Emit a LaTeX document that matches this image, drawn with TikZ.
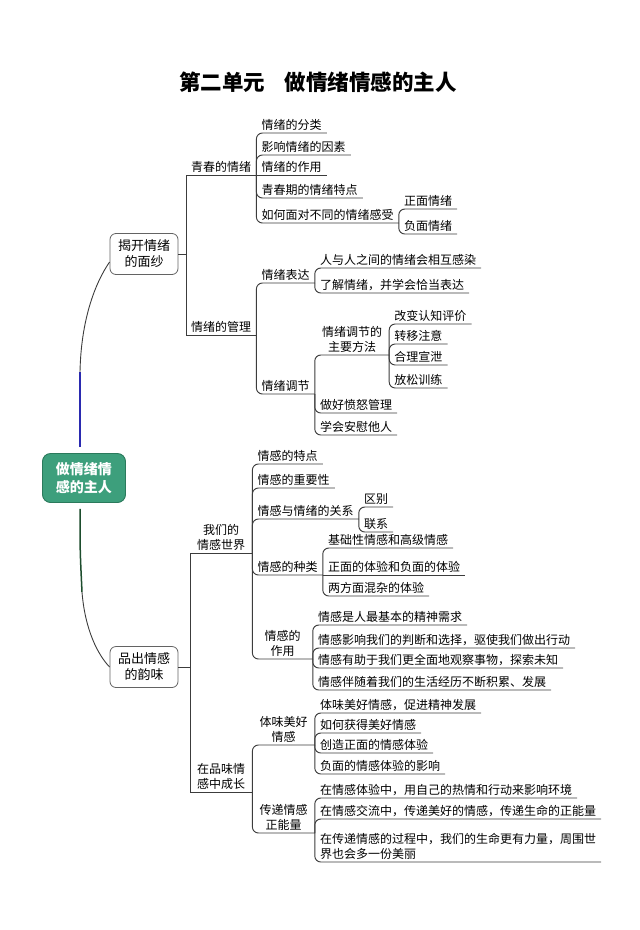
\documentclass[tikz,border=0pt]{standalone}
\usepackage{fontspec}
\setmainfont{Noto Sans CJK SC}
\usepackage{xcolor}
\usepackage{tikz}
\definecolor{linegray}{HTML}{3C3C3C}
\definecolor{rootgreen}{HTML}{3D9F7C}
\definecolor{rootedge}{HTML}{2B7A5C}
\definecolor{upblue}{HTML}{2A2AB0}
\definecolor{downgreen}{HTML}{1D4D2D}

\begin{document}
\begin{tikzpicture}[
    x=1pt, y=-1pt,
    topic/.style={anchor=south west, inner xsep=5pt, inner ysep=2.5pt, font=\fontsize{12}{15}\selectfont},
    twoline/.style={topic, align=center, inner xsep=7pt, minimum width=60pt},
    rootbox/.style={rectangle, draw=rootedge, fill=rootgreen, text=white, rounded corners=8pt, line width=0.9pt, minimum width=83pt, minimum height=49pt, align=center, font=\fontsize{14}{18}\selectfont\bfseries},
    mainbox/.style={rectangle, draw=linegray!80, rounded corners=6pt, line width=0.8pt, minimum width=68pt, minimum height=41pt, align=center, font=\fontsize{13}{16}\selectfont},
    branch/.style={draw=linegray, line width=0.95pt, rounded corners=6pt},
    trunk/.style={draw=linegray, line width=0.95pt}
]
\useasboundingbox (0,0) rectangle (640,930);

\node [font=\fontsize{21.5}{26}\selectfont\bfseries] (title) at (318,82) {第二单元\hspace{20pt}做情绪情感的主人};

\node [rootbox] (zhuren) at (84,478) {做情绪情\\感的主人};
\node [mainbox] (jiekai) at (144,254) {揭开情绪\\的面纱};
\node [mainbox] (pinchu) at (144,667) {品出情感\\的韵味};

\node [topic] (qingchun) at (186,175) {青春的情绪};
\node [topic] (guanli) at (186,335) {情绪的管理};
\node [twoline] (shijie) at (190,553) {我们的\\情感世界};
\node [twoline, align=left] (chengzhang) at (190,792) {在品味情\\感中成长};

\node [topic] (fenlei) at (qingchun.south east |- 0,133) {情绪的分类};
\node [topic] (yinsu) at (qingchun.south east |- 0,155) {影响情绪的因素};
\node [topic] (zuoyong) at (qingchun.south east |- 0,175) {情绪的作用};
\node [topic] (tedian) at (qingchun.south east |- 0,198) {青春期的情绪特点};
\node [topic] (ganshou) at (qingchun.south east |- 0,223) {如何面对不同的情绪感受};
\node [topic] (zhengmian) at (ganshou.south east |- 0,209) {正面情绪};
\node [topic] (fumian) at (ganshou.south east |- 0,234) {负面情绪};

\node [topic] (biaoda) at (guanli.south east |- 0,283) {情绪表达};
\node [topic] (ganran) at (biaoda.south east |- 0,268) {人与人之间的情绪会相互感染};
\node [topic] (qiadang) at (biaoda.south east |- 0,293) {了解情绪，并学会恰当表达};
\node [topic] (tiaojie) at (guanli.south east |- 0,394) {情绪调节};
\node [twoline] (fangfa) at (tiaojie.south east |- 0,355) {情绪调节的\\主要方法};
\node [topic] (pingjia) at (fangfa.south east |- 0,324) {改变认知评价};
\node [topic] (zhuyi) at (fangfa.south east |- 0,344) {转移注意};
\node [topic] (xuanxie) at (fangfa.south east |- 0,365) {合理宣泄};
\node [topic] (fangsong) at (fangfa.south east |- 0,388) {放松训练};
\node [topic] (fennu) at (tiaojie.south east |- 0,413) {做好愤怒管理};
\node [topic] (anwei) at (tiaojie.south east |- 0,435) {学会安慰他人};

\node [topic] (tezheng) at (shijie.south east |- 0,464) {情感的特点};
\node [topic] (zhongyao) at (shijie.south east |- 0,488) {情感的重要性};
\node [topic] (guanxi) at (shijie.south east |- 0,519) {情感与情绪的关系};
\node [topic] (qubie) at (guanxi.south east |- 0,507) {区别};
\node [topic] (lianxi) at (guanxi.south east |- 0,532) {联系};
\node [topic] (zhonglei) at (shijie.south east |- 0,575) {情感的种类};
\node [topic] (jichu) at (zhonglei.south east |- 0,548) {基础性情感和高级情感};
\node [topic] (tiyan) at (zhonglei.south east |- 0,575) {正面的体验和负面的体验};
\node [topic] (hunza) at (zhonglei.south east |- 0,596) {两方面混杂的体验};
\node [twoline] (gzuoyong) at (shijie.south east |- 0,659) {情感的\\作用};
\node [topic] (xuqiu) at (gzuoyong.south east |- 0,625) {情感是人最基本的精神需求};
\node [topic] (xingdong) at (gzuoyong.south east |- 0,648) {情感影响我们的判断和选择，驱使我们做出行动};
\node [topic] (tansuo) at (gzuoyong.south east |- 0,668) {情感有助于我们更全面地观察事物，探索未知};
\node [topic] (jilei) at (gzuoyong.south east |- 0,690) {情感伴随着我们的生活经历不断积累、发展};

\node [twoline] (tiwei) at (chengzhang.south east |- 0,745) {体味美好\\情感};
\node [topic] (cujin) at (tiwei.south east |- 0,713) {体味美好情感，促进精神发展};
\node [topic] (huode) at (tiwei.south east |- 0,733) {如何获得美好情感};
\node [topic] (chuangzao) at (tiwei.south east |- 0,753) {创造正面的情感体验};
\node [topic] (yingxiang) at (tiwei.south east |- 0,774) {负面的情感体验的影响};
\node [twoline] (chuandi) at (chengzhang.south east |- 0,833) {传递情感\\正能量};
\node [topic] (huanjing) at (chuandi.south east |- 0,798) {在情感体验中，用自己的热情和行动来影响环境};
\node [topic] (nengliang) at (chuandi.south east |- 0,819) {在情感交流中，传递美好的情感，传递生命的正能量};
\node [topic, align=left] (meili) at (chuandi.south east |- 0,862) {在传递情感的过程中，我们的生命更有力量，周围世\\界也会多一份美丽};

\coordinate (upmid) at (80,372);
\coordinate (downmid) at (82,592);
\draw [upblue, line width=1.5pt] ([xshift=-4pt, yshift=6pt]zhuren.north) -- (upmid);
\draw [linegray, line width=0.9pt] (upmid) .. controls (81,320) and (95,283) .. ([yshift=-8pt]jiekai.west);
\draw [downgreen, line width=1.5pt] ([xshift=-4pt, yshift=-6pt]zhuren.south) .. controls (80,550) .. (downmid);
\draw [linegray, line width=0.9pt] (downmid) .. controls (85,630) and (98,655) .. (pinchu.west);

\path [trunk] (jiekai.east) -| (qingchun.south west) -- (qingchun.south east);
\path [trunk] (jiekai.east) -| (guanli.south west) -- (guanli.south east);
\path [trunk] (pinchu.east) -| (shijie.south west) -- (shijie.south east);
\path [trunk] (pinchu.east) -| (chengzhang.south west) -- (chengzhang.south east);

\path [branch] (qingchun.south east) |- (fenlei.south east);
\path [branch] (qingchun.south east) |- (yinsu.south east);
\path [branch] (qingchun.south east) -- (zuoyong.south east);
\path [branch] (qingchun.south east) |- (tedian.south east);
\path [branch] (qingchun.south east) |- (ganshou.south east);
\path [branch] (ganshou.south east) |- (zhengmian.south east);
\path [branch] (ganshou.south east) |- (fumian.south east);

\path [branch] (guanli.south east) |- (biaoda.south east);
\path [branch] (biaoda.south east) |- (ganran.south east);
\path [branch] (biaoda.south east) |- (qiadang.south east);
\path [branch] (guanli.south east) |- (tiaojie.south east);
\path [branch] (tiaojie.south east) |- (fangfa.south east);
\path [branch] (fangfa.south east) |- (pingjia.south east);
\path [branch] (fangfa.south east) |- (zhuyi.south east);
\path [branch] (fangfa.south east) |- (xuanxie.south east);
\path [branch] (fangfa.south east) |- (fangsong.south east);
\path [branch] (tiaojie.south east) |- (fennu.south east);
\path [branch] (tiaojie.south east) |- (anwei.south east);

\path [branch] (shijie.south east) |- (tezheng.south east);
\path [branch] (shijie.south east) |- (zhongyao.south east);
\path [branch] (shijie.south east) |- (guanxi.south east);
\path [branch] (guanxi.south east) |- (qubie.south east);
\path [branch] (guanxi.south east) |- (lianxi.south east);
\path [branch] (shijie.south east) |- (zhonglei.south east);
\path [branch] (zhonglei.south east) |- (jichu.south east);
\path [branch] (zhonglei.south east) -- (tiyan.south east);
\path [branch] (zhonglei.south east) |- (hunza.south east);
\path [branch] (shijie.south east) |- (gzuoyong.south east);
\path [branch] (gzuoyong.south east) |- (xuqiu.south east);
\path [branch] (gzuoyong.south east) |- (xingdong.south east);
\path [branch] (gzuoyong.south east) |- (tansuo.south east);
\path [branch] (gzuoyong.south east) |- (jilei.south east);

\path [branch] (chengzhang.south east) |- (tiwei.south east);
\path [branch] (tiwei.south east) |- (cujin.south east);
\path [branch] (tiwei.south east) |- (huode.south east);
\path [branch] (tiwei.south east) |- (chuangzao.south east);
\path [branch] (tiwei.south east) |- (yingxiang.south east);
\path [branch] (chengzhang.south east) |- (chuandi.south east);
\path [branch] (chuandi.south east) |- (huanjing.south east);
\path [branch] (chuandi.south east) |- (nengliang.south east);
\path [branch] (chuandi.south east) |- (meili.south east);

\end{tikzpicture}
\end{document}
